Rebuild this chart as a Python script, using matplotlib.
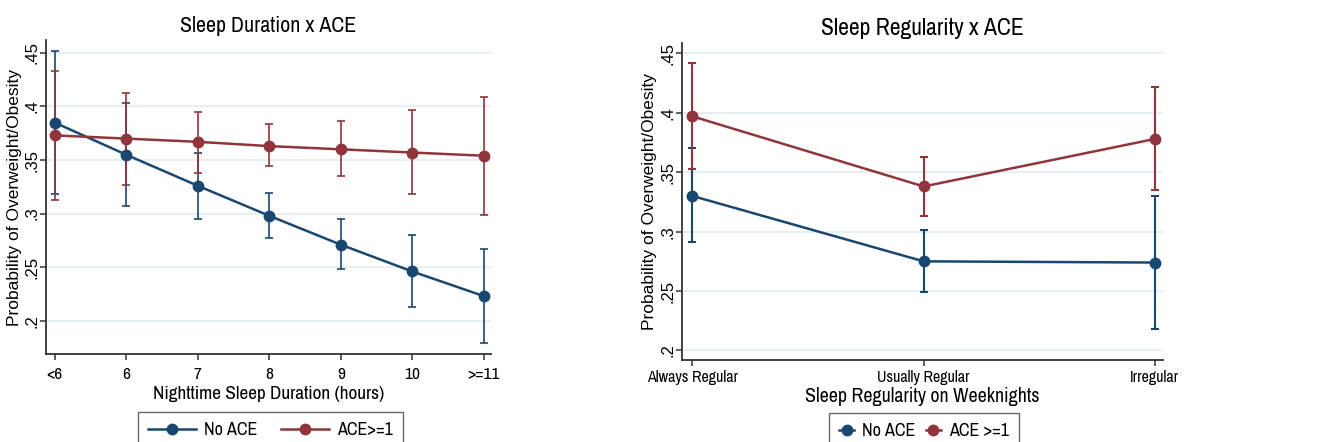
import numpy as np
import matplotlib
matplotlib.use("Agg")
import matplotlib.pyplot as plt
from matplotlib.lines import Line2D

# narrow face for horizontal text (the reference is squeezed sideways)
narrow = ["Archivo Narrow", "Roboto Condensed", "Liberation Sans"]
regular = "Liberation Sans"

# data - sleep duration panel
dur_labels = ["<6", "6", "7", "8", "9", "10", ">=11"]
dur_noace = [0.385, 0.355, 0.326, 0.298, 0.271, 0.246, 0.223]
dur_noace_lo = [0.318, 0.307, 0.295, 0.277, 0.248, 0.213, 0.179]
dur_noace_hi = [0.452, 0.403, 0.357, 0.319, 0.295, 0.280, 0.267]
dur_ace = [0.373, 0.370, 0.367, 0.363, 0.360, 0.357, 0.354]
dur_ace_lo = [0.313, 0.327, 0.338, 0.344, 0.335, 0.318, 0.299]
dur_ace_hi = [0.433, 0.413, 0.395, 0.384, 0.386, 0.397, 0.409]

# data - sleep regularity panel
reg_labels = ["Always Regular", "Usually Regular", "Irregular"]
reg_noace = [0.330, 0.275, 0.274]
reg_noace_lo = [0.291, 0.249, 0.218]
reg_noace_hi = [0.370, 0.301, 0.330]
reg_ace = [0.397, 0.338, 0.378]
reg_ace_lo = [0.353, 0.313, 0.335]
reg_ace_hi = [0.442, 0.363, 0.422]

yticks = [0.2, 0.25, 0.3, 0.35, 0.4, 0.45]
ytick_labels = [".2", ".25", ".3", ".35", ".4", ".45"]

navy = "#1a476f"
maroon = "#90353b"
grid = "#e4eef0"

W, H = 1321, 442
fig = plt.figure(figsize=(W / 100, H / 100), dpi=100)
fig.patch.set_facecolor("white")


def style_axes(ax, ylim):
    ax.set_ylim(*ylim)
    ax.set_yticks(yticks)
    ax.set_yticklabels(ytick_labels, rotation=90, va="center",
                       fontsize=12, family=regular)
    ax.grid(axis="y", color=grid, linewidth=1.3)
    ax.set_axisbelow(True)
    for s in ["top", "right"]:
        ax.spines[s].set_visible(False)
    for s in ["left", "bottom"]:
        ax.spines[s].set_linewidth(1.3)
        ax.spines[s].set_color("#333333")
    ax.tick_params(direction="out", length=4, width=1.1, color="#333333")
    ax.tick_params(axis="y", pad=1)
    ax.set_ylabel("Probability of Overweight/Obesity", fontsize=12.5,
                  family=regular)
    ax.yaxis.set_label_coords(-0.053, 0.5)


def draw(ax, x, y, lo, hi, color, ew=1.2):
    y = np.array(y)
    err = [y - np.array(lo), np.array(hi) - y]
    ax.errorbar(x, y, yerr=err, color=color, linewidth=1.8, marker="o",
                markersize=7.5, elinewidth=ew, capsize=2.8, capthick=ew)


def handle(color):
    return Line2D([], [], color=color, linewidth=1.8, marker="o",
                  markersize=7.5)


# left panel
ax1 = fig.add_axes([46 / W, 1 - 354 / H, 445 / W, 314 / H])
xd = np.arange(len(dur_labels))
draw(ax1, xd, dur_noace, dur_noace_lo, dur_noace_hi, navy)
draw(ax1, xd, dur_ace, dur_ace_lo, dur_ace_hi, maroon)
style_axes(ax1, (0.169, 0.462))
ax1.set_xlim(-0.12, 6.1)
ax1.set_xticks(xd)
ax1.set_xticklabels(dur_labels, fontsize=12.5, family=narrow)
ax1.tick_params(axis="x", pad=5.5)
ax1.set_xlabel("Nighttime Sleep Duration (hours)", fontsize=13.8,
               family=narrow, labelpad=3)
ax1.set_title("Sleep Duration x ACE", fontsize=15.8, family=narrow, pad=6)

leg1 = fig.legend([handle(navy), handle(maroon)], ["No ACE", "ACE>=1"],
                  loc="upper left", bbox_to_anchor=(138 / W, 1 - 412 / H),
                  ncol=2, prop={"family": narrow, "size": 13},
                  frameon=True, fancybox=False, edgecolor="#444444",
                  handlelength=2.65, handletextpad=0.45, columnspacing=1.3,
                  borderpad=0.55, borderaxespad=0)
leg1.get_frame().set_linewidth(1.0)

# right panel
ax2 = fig.add_axes([682 / W, 1 - 360 / H, 481 / W, 317 / H])
xr = np.arange(len(reg_labels))
draw(ax2, xr, reg_noace, reg_noace_lo, reg_noace_hi, navy, 1.5)
draw(ax2, xr, reg_ace, reg_ace_lo, reg_ace_hi, maroon, 1.5)
style_axes(ax2, (0.192, 0.4587))
ax2.set_xlim(-0.045, 2.035)
ax2.set_xticks(xr)
ax2.set_xticklabels(reg_labels, fontsize=11.5, family=narrow)
ax2.set_xlabel("Sleep Regularity on Weeknights", fontsize=14.3,
               family=narrow, labelpad=1)
ax2.set_title("Sleep Regularity x ACE", fontsize=17, family=narrow, pad=6)

leg2 = fig.legend([handle(navy), handle(maroon)], ["No ACE", "ACE >=1"],
                  loc="upper left", bbox_to_anchor=(829 / W, 1 - 413 / H),
                  ncol=2, prop={"family": narrow, "size": 13},
                  frameon=True, fancybox=False, edgecolor="#444444",
                  handlelength=0.85, handletextpad=0.45, columnspacing=0.55,
                  borderpad=0.55, borderaxespad=0)
leg2.get_frame().set_linewidth(1.0)

fig.savefig("out.png", dpi=100, facecolor="white")
